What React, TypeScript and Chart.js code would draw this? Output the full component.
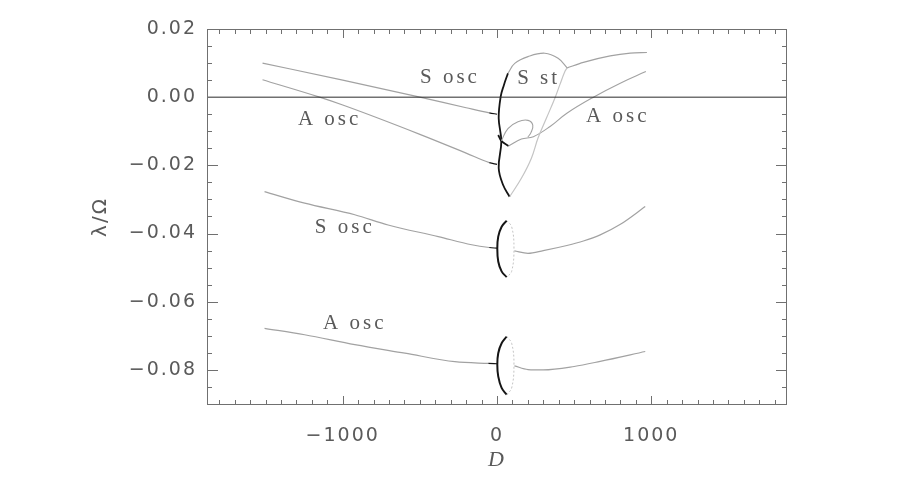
import { useEffect, useRef } from 'react';
import { Chart, registerables } from 'chart.js';

Chart.register(...registerables);

// ---- axes ----
const X_MIN = -1880;
const X_MAX = 1880;
const Y_MIN = -0.0903;
const Y_MAX = 0.02;
const X_TICKS = [-1000, 0, 1000];
const Y_TICKS = [-0.08, -0.06, -0.04, -0.02, 0.0, 0.02];
const X_MAJOR_STEP = 1000;
const X_MINOR_STEP = 100;
const Y_MAJOR_STEP = 0.02;
const Y_MINOR_STEP = 0.005;

// ---- series: [D, lambda/Omega] ----
const sOscUpperLeft: [number, number][] = [[-1520, 0.0100], [-1000, 0.0050], [-500, 0.0000], [-200, -0.0031], [-50, -0.0046], [0, -0.0050]];
const aOscUpperLeft: [number, number][] = [[-1520, 0.0051], [-1150, 0.0], [-1000, -0.0023], [-500, -0.0109], [-200, -0.0164], [-50, -0.0192], [0, -0.0197]];
const sOscMidLeft: [number, number][] = [[-1507, -0.0277], [-1247, -0.0311], [-922, -0.0345], [-706, -0.0375], [-381, -0.0409], [-164, -0.0433], [-50, -0.0441], [0, -0.0443]];
const aOscLowLeft: [number, number][] = [[-1507, -0.0678], [-1247, -0.0697], [-922, -0.0726], [-597, -0.0751], [-273, -0.0776], [-56, -0.0781], [0, -0.0782]];

const sOscMidRight: [number, number][] = [[113, -0.0451], [201, -0.0458], [300, -0.0450], [453, -0.0435], [560, -0.0422], [669, -0.0404], [800, -0.0373], [961, -0.0321]];
const aOscLowRight: [number, number][] = [[113, -0.0788], [201, -0.0799], [301, -0.0800], [500, -0.0790], [669, -0.0775], [961, -0.0746]];

const ellipseMidLeft: [number, number][] = [[63, -0.0362], [30, -0.0380], [8, -0.0409], [2, -0.0443], [8, -0.0482], [30, -0.0511], [63, -0.0528]];
const ellipseMidRight: [number, number][] = [[63, -0.0362], [95, -0.0380], [110, -0.0443], [95, -0.0511], [63, -0.0528]];
const ellipseLowLeft: [number, number][] = [[63, -0.0702], [30, -0.0722], [8, -0.0751], [2, -0.0785], [8, -0.0819], [30, -0.0853], [63, -0.0873]];
const ellipseLowRight: [number, number][] = [[63, -0.0702], [95, -0.0722], [110, -0.0785], [95, -0.0853], [63, -0.0873]];

const sStBlack: [number, number][] = [[71, 0.0070], [45, 0.0036], [24, 0.0002], [11, -0.0062], [28, -0.0130], [11, -0.0208], [39, -0.0257], [82, -0.0292]];
const sStArc: [number, number][] = [[71, 0.0070], [115, 0.0099], [201, 0.0119], [310, 0.0129], [396, 0.0114], [455, 0.0086]];
const sStRight: [number, number][] = [[455, 0.0086], [560, 0.0102], [734, 0.0121], [864, 0.0129], [972, 0.0131]];
const sStReturn: [number, number][] = [[455, 0.0086], [440, 0.0075], [407, 0.0036], [375, -0.0003], [320, -0.0062], [266, -0.0120], [223, -0.0179], [158, -0.0238], [82, -0.0292]];

const loopUpper: [number, number][] = [[28, -0.0128], [71, -0.0092], [136, -0.0072], [201, -0.0068], [232, -0.0082], [220, -0.0104], [200, -0.0117]];
const loopLowerBlack: [number, number][] = [[8, -0.0111], [28, -0.0128], [75, -0.0143]];
const aOscRight: [number, number][] = [[75, -0.0143], [158, -0.0123], [236, -0.0116], [344, -0.0086], [453, -0.0047], [625, 0.0], [799, 0.0041], [965, 0.0075]];

const zeroLine: [number, number][] = [[X_MIN, 0], [X_MAX, 0]];

const annotations = [
  { text: 'S osc', x: -305, y: 0.0058 },
  { text: 'S st', x: 270, y: 0.0054 },
  { text: 'A osc', x: -1085, y: -0.0064 },
  { text: 'A osc', x: 783, y: -0.0057 },
  { text: 'S osc', x: -987, y: -0.0382 },
  { text: 'A osc', x: -922, y: -0.0665 },
];

// ---- styles ----
const GRAY = '#a2a2a2';
const LIGHT = '#c4c4c4';
const DARK = '#151515';
const FRAME = '#707070';
const TEXT = '#5a5a5a';

const pts = (a: [number, number][]) => a.map(([x, y]) => ({ x, y }));

function line(a: [number, number][], color: string, width: number, extra: any = {}) {
  return {
    data: pts(a),
    borderColor: color,
    borderWidth: width,
    pointRadius: 0,
    showLine: true,
    tension: 0.4,
    fill: false,
    ...extra,
  };
}

const darkEnd = {
  cubicInterpolationMode: 'monotone',
  segment: { borderColor: (c: any) => (c.p0.parsed.x >= -60 ? DARK : undefined) },
};

const fmtMinus = (s: string, neg: boolean) => (neg ? '\u2212' + s : s);

const framePlugin = {
  id: 'idlFrame',
  beforeDraw(chart: any) {
    chart.ctx.letterSpacing = '2px';
  },
  afterDatasetsDraw(chart: any) {
    const { ctx, scales } = chart;
    const xs = scales.x;
    const ys = scales.y;
    ctx.save();
    ctx.letterSpacing = '3px';
    ctx.font = '21px "Liberation Serif"';
    ctx.fillStyle = TEXT;
    ctx.textAlign = 'center';
    ctx.textBaseline = 'middle';
    for (const a of annotations) {
      ctx.fillText(a.text, xs.getPixelForValue(a.x), ys.getPixelForValue(a.y));
    }
    ctx.restore();
  },
  afterDraw(chart: any) {
    const { ctx, chartArea: a, scales } = chart;
    const xs = scales.x;
    const ys = scales.y;
    ctx.save();
    ctx.strokeStyle = FRAME;
    ctx.lineWidth = 1;
    ctx.beginPath();
    ctx.rect(Math.round(a.left) + 0.5, Math.round(a.top) + 0.5, Math.round(a.right - a.left) - 1, Math.round(a.bottom - a.top) - 1);
    ctx.stroke();
    ctx.beginPath();
    const xr = Math.round(X_MAJOR_STEP / X_MINOR_STEP);
    for (let k = Math.ceil(X_MIN / X_MINOR_STEP); k * X_MINOR_STEP <= X_MAX; k++) {
      const px = Math.round(xs.getPixelForValue(k * X_MINOR_STEP)) + 0.5;
      const len = k % xr === 0 ? 9 : 5;
      ctx.moveTo(px, a.bottom);
      ctx.lineTo(px, a.bottom - len);
      ctx.moveTo(px, a.top);
      ctx.lineTo(px, a.top + len);
    }
    const yr = Math.round(Y_MAJOR_STEP / Y_MINOR_STEP);
    for (let k = Math.ceil(Y_MIN / Y_MINOR_STEP); k * Y_MINOR_STEP <= Y_MAX + 1e-12; k++) {
      const py = Math.round(ys.getPixelForValue(k * Y_MINOR_STEP)) + 0.5;
      const len = k % yr === 0 ? 11 : 5;
      ctx.moveTo(a.left, py);
      ctx.lineTo(a.left + len, py);
      ctx.moveTo(a.right, py);
      ctx.lineTo(a.right - len, py);
    }
    ctx.stroke();
    ctx.restore();
    ctx.letterSpacing = '0px';
  },
};

export default function App() {
  const ref = useRef<HTMLCanvasElement>(null);
  useEffect(() => {
    document.body.style.margin = '0';
    const canvas = ref.current!;
    const chart = new Chart(canvas, {
      type: 'scatter',
      data: {
        datasets: [
          line(zeroLine, '#2a2a2a', 1, { tension: 0 }),
          line(sOscUpperLeft, GRAY, 1.2, darkEnd),
          line(aOscUpperLeft, GRAY, 1.2, darkEnd),
          line(sOscMidLeft, GRAY, 1.2, darkEnd),
          line(aOscLowLeft, GRAY, 1.2, darkEnd),
          line(sOscMidRight, GRAY, 1.2, { cubicInterpolationMode: 'monotone' }),
          line(aOscLowRight, GRAY, 1.2, { cubicInterpolationMode: 'monotone' }),
          line(ellipseMidRight, LIGHT, 1, { borderDash: [2, 2] }),
          line(ellipseLowRight, LIGHT, 1, { borderDash: [2, 2] }),
          line(ellipseMidLeft, DARK, 2),
          line(ellipseLowLeft, DARK, 2),
          line(sStArc, GRAY, 1.1),
          line(sStRight, GRAY, 1.2, { cubicInterpolationMode: 'monotone' }),
          line(sStReturn, LIGHT, 1.2),
          line(loopUpper, GRAY, 1.1),
          line(aOscRight, GRAY, 1.1),
          line(loopLowerBlack, DARK, 1.8),
          line(sStBlack, DARK, 1.8),
        ] as any,
      },
      options: {
        animation: false,
        responsive: false,
        devicePixelRatio: 1,
        layout: { padding: { left: 0, right: 126, top: 29, bottom: 0 } },
        plugins: { legend: { display: false }, tooltip: { enabled: false } },
        scales: {
          x: {
            type: 'linear',
            min: X_MIN,
            max: X_MAX,
            grid: { display: false, drawTicks: false },
            border: { display: false },
            afterBuildTicks: (s: any) => {
              s.ticks = X_TICKS.map((value) => ({ value }));
            },
            ticks: {
              autoSkip: false,
              maxRotation: 0,
              padding: 20,
              color: TEXT,
              font: { family: 'DejaVu Sans', size: 19 },
              callback: (v: any) => fmtMinus(String(Math.abs(Math.round(Number(v)))), Number(v) < 0),
            },
            title: {
              display: true,
              text: 'D',
              color: TEXT,
              font: { family: 'Liberation Serif', style: 'italic', size: 22 },
              padding: { top: 0, bottom: 6 },
            },
            afterFit: (s: any) => {
              s.height = 74;
            },
          },
          y: {
            type: 'linear',
            min: Y_MIN,
            max: Y_MAX,
            grid: { display: false, drawTicks: false },
            border: { display: false },
            afterBuildTicks: (s: any) => {
              s.ticks = Y_TICKS.map((value) => ({ value }));
            },
            ticks: {
              autoSkip: false,
              padding: 10,
              color: TEXT,
              font: { family: 'DejaVu Sans', size: 19 },
              callback: (v: any) => fmtMinus(Math.abs(Number(v)).toFixed(2), Number(v) < -1e-9),
            },
            title: {
              display: true,
              text: 'λ/Ω',
              color: TEXT,
              font: { family: 'DejaVu Sans', size: 20 },
              padding: { top: 89, bottom: 0 },
            },
            afterFit: (s: any) => {
              s.width = 207;
            },
          },
        },
      } as any,
      plugins: [framePlugin],
    });
    return () => chart.destroy();
  }, []);
  return (
    <div style={{ width: 913, height: 479, background: '#fff' }}>
      <canvas ref={ref} width={913} height={479} style={{ display: 'block' }} />
    </div>
  );
}
